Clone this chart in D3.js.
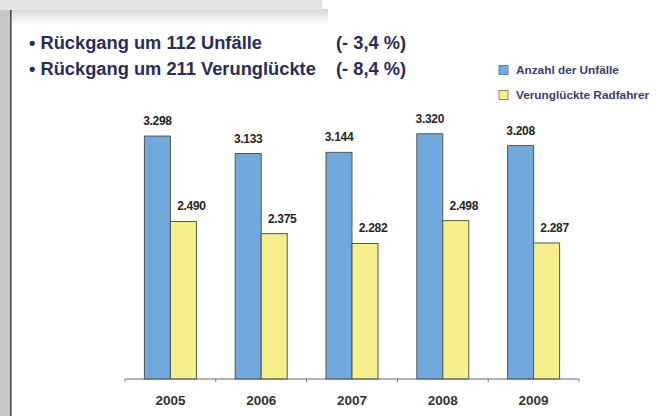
<!DOCTYPE html>
<html>
<head>
<meta charset="utf-8">
<script src="https://cdn.jsdelivr.net/npm/d3@7"></script>
<style>
  body { margin: 0; background: #fff; }
  svg { display: block; font-family: "Liberation Sans", Arial, sans-serif; }
</style>
</head>
<body>
<svg width="672" height="416"></svg>
<script>
const years = ['2005', '2006', '2007', '2008', '2009'];
const unfaelle = [3298, 3133, 3144, 3320, 3208];
const verunglueckte = [2490, 2375, 2282, 2498, 2287];
const seriesNames = ['Anzahl der Unfälle', 'Verunglückte Radfahrer'];
const seriesColors = ['#72a9dc', '#f6f08c'];
const headLines = ['• Rückgang um 112 Unfälle', '• Rückgang um 211 Verunglückte'];
const headPct = ['(- 3,4 %)', '(- 8,4 %)'];

const fmt = v => d3.format(',')(v).replace(',', '.');

const svg = d3.select('svg');
const defs = svg.append('defs');

// slide frame: top tab with shadow, left strip
const shadow = defs.append('linearGradient').attr('id', 'shadow')
    .attr('x1', 0).attr('y1', 0).attr('x2', 0).attr('y2', 1);
shadow.append('stop').attr('offset', 0).attr('stop-color', '#d6d6d9');
shadow.append('stop').attr('offset', 1).attr('stop-color', '#ffffff');

svg.append('rect').attr('x', 10).attr('y', 9).attr('width', 318).attr('height', 16)
    .attr('fill', 'url(#shadow)');
svg.append('rect').attr('x', 0).attr('y', 0).attr('width', 322).attr('height', 10)
    .attr('fill', '#e4e4e6');
svg.append('rect').attr('x', 0).attr('y', 10).attr('width', 10).attr('height', 406)
    .attr('fill', '#c9c9cb');
svg.append('rect').attr('x', 10).attr('y', 10).attr('width', 1.6).attr('height', 406)
    .attr('fill', '#4a4a4a');

// headline text
const head = svg.append('g').attr('font-weight', 'bold').attr('font-size', 18.3)
    .attr('fill', '#2b2b58');
headLines.forEach((t, i) => {
    head.append('text').attr('x', 29).attr('y', 48.5 + i * 26).text(t);
    head.append('text').attr('x', 336).attr('y', 48.5 + i * 26).text(headPct[i]);
});

// legend
const legend = svg.append('g').attr('transform', 'translate(499,70)');
seriesNames.forEach((name, i) => {
    const g = legend.append('g').attr('transform', `translate(0,${i * 25})`);
    g.append('rect').attr('x', 0).attr('y', -4.5).attr('width', 9).attr('height', 9)
        .attr('fill', seriesColors[i]).attr('stroke', i ? '#8c8c52' : '#5b7fa6');
    g.append('text').attr('x', 17).attr('y', 4)
        .attr('font-size', 11.8).attr('font-weight', 'bold').attr('fill', '#3b3b6c')
        .text(name);
});

// chart
const x0 = d3.scaleBand().domain(years).range([125, 579]);
const x1 = d3.scaleBand().domain([0, 1]).range([x0.bandwidth() / 2 - 26, x0.bandwidth() / 2 + 26]);
const y = d3.scaleLinear().domain([1000, 3400]).range([379, 125.3]);

const groups = svg.append('g').selectAll('g').data(years).join('g')
    .attr('transform', d => `translate(${x0(d)},0)`);

const cells = groups.selectAll('g').data((d, i) => [unfaelle[i], verunglueckte[i]]).join('g');

cells.append('rect')
    .attr('x', (d, j) => x1(j))
    .attr('y', d => y(d))
    .attr('width', x1.bandwidth())
    .attr('height', d => y.range()[0] - y(d))
    .attr('fill', (d, j) => seriesColors[j])
    .attr('stroke', '#555')
    .attr('stroke-width', 1);

cells.append('text')
    .attr('x', (d, j) => x1(j) + x1.bandwidth() / 2 + (j ? 8 : 0))
    .attr('y', d => y(d) - 11)
    .attr('text-anchor', 'middle')
    .attr('font-size', 12).attr('font-weight', 'bold').attr('fill', '#262626')
    .attr('letter-spacing', -0.3)
    .text(fmt);

// axis
const axis = svg.append('g').attr('transform', 'translate(0,379)')
    .call(d3.axisBottom(x0).tickSize(0).tickPadding(16));
axis.select('.domain').attr('stroke', '#666').attr('d', 'M125,0H579');
axis.selectAll('text').attr('font-size', 13.5).attr('font-weight', 'bold')
    .attr('fill', '#333').attr('font-family', null);
axis.selectAll('.sep').data(d3.range(years.length + 1)).join('line')
    .attr('class', 'sep')
    .attr('x1', i => 125 + i * x0.step()).attr('x2', i => 125 + i * x0.step())
    .attr('y1', 0).attr('y2', 3).attr('stroke', '#777');
</script>
</body>
</html>
